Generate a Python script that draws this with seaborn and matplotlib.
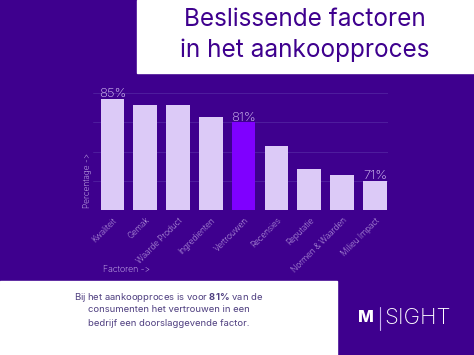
import matplotlib
matplotlib.use('Agg')
import matplotlib.pyplot as plt
import matplotlib.patches as mpatches
import seaborn as sns
import pandas as pd

# data
factoren = ['Kwaliteit', 'Gemak', 'Waarde Product', 'Ingredienten', 'Vertrouwen',
            'Recensies', 'Reputatie', 'Normen & Waarden', 'Milieu Impact']
percentages = [85, 84, 84, 82, 81, 77, 73, 72, 71]
labelled = ['Kwaliteit', 'Vertrouwen', 'Milieu Impact']
highlight = 'Vertrouwen'

BG = '#3e008e'
BAR = '#dccaf7'
HL = '#7f00ff'
TXT = '#dccaf7'

sns.set_style('white')
plt.rcParams['font.family'] = ['Inter', 'DejaVu Sans']
plt.rcParams['mathtext.fontset'] = 'custom'
plt.rcParams['mathtext.rm'] = 'Inter'
plt.rcParams['mathtext.bf'] = 'Inter:bold'

df = pd.DataFrame({'factor': factoren, 'pct': percentages})
palette = [HL if f == highlight else BAR for f in factoren]

fig = plt.figure(figsize=(4.74, 3.55), dpi=100)
fig.patch.set_facecolor(BG)

# white boxes
fig.add_artist(mpatches.Rectangle((137 / 474, 1 - 73 / 355), 1, 73 / 355,
                                  transform=fig.transFigure, color='white', zorder=0))
fig.add_artist(mpatches.Rectangle((0, 0), 337 / 474, 74 / 355,
                                  transform=fig.transFigure, color='white', zorder=0))

ax = fig.add_axes([92.8 / 474, (355 - 210.3) / 355, (388 - 92.8) / 474, 21 * 5.857 / 355])
ax.set_facecolor(BG)
sns.barplot(data=df, x='factor', y='pct', hue='factor', palette=palette,
            legend=False, width=0.72, saturation=1, linewidth=0, ax=ax, zorder=2)
ax.set_ylim(66, 87)
ax.set_xlim(-0.6, 8.4)
ax.set_yticks([66, 71, 76, 81, 86])
ax.set_yticklabels([])
ax.yaxis.grid(True, color='#5222a0', lw=0.6, zorder=0)
ax.tick_params(axis='both', length=0)
ax.set_xticks(range(len(factoren)))
ax.set_xticklabels(factoren, rotation=45, ha='right', rotation_mode='anchor',
                   color=TXT, fontsize=5.9, fontweight='light')
ax.tick_params(axis='x', pad=4)
ax.set_xlabel('')
ax.set_ylabel('')
sns.despine(ax=ax, left=True, bottom=True)

for i, (f, v) in enumerate(zip(factoren, percentages)):
    if f in labelled:
        ax.text(i, v - 0.2, f'{v}%', ha='center', va='bottom', color=TXT,
                fontsize=9.5, fontweight='light', zorder=3)

fig.text(87 / 474, 1 - 180 / 355, 'Percentage ->', rotation=90, ha='center', va='center',
         color=TXT, fontsize=6, fontweight='light')
fig.text(103 / 474, 1 - 269 / 355, 'Factoren ->', ha='left', va='center',
         color=TXT, fontsize=6.3, fontweight='light')

fig.text(305 / 474, 1 - 20 / 355, 'Beslissende factoren', ha='center', va='center',
         color=BG, fontsize=17.5)
fig.text(305 / 474, 1 - 50 / 355, 'in het aankoopproces', ha='center', va='center',
         color=BG, fontsize=17.5)

body = ['Bij het aankoopproces is voor $\\mathbf{81\\%}$ van de',
        'consumenten het vertrouwen in een',
        'bedrijf een doorslaggevende factor.']
for k, line in enumerate(body):
    fig.text(169 / 474, 1 - (297 + 13 * k) / 355, line, ha='center', va='center',
             color='#4f3f80', fontsize=6.8)

# logo
fig.text(366 / 474, 1 - 318 / 355, 'M', ha='center', va='center', color='white',
         fontsize=12, fontweight='heavy')
fig.add_artist(plt.Line2D([380 / 474, 380 / 474], [1 - 307 / 355, 1 - 330 / 355],
                          transform=fig.transFigure, color='#c8b0f0', lw=0.8))
fig.text(384 / 474, 1 - 318 / 355, 'SIGHT', ha='left', va='center', color='white',
         fontsize=16, fontweight='light')

fig.savefig('out.png', dpi=100, facecolor=BG)
